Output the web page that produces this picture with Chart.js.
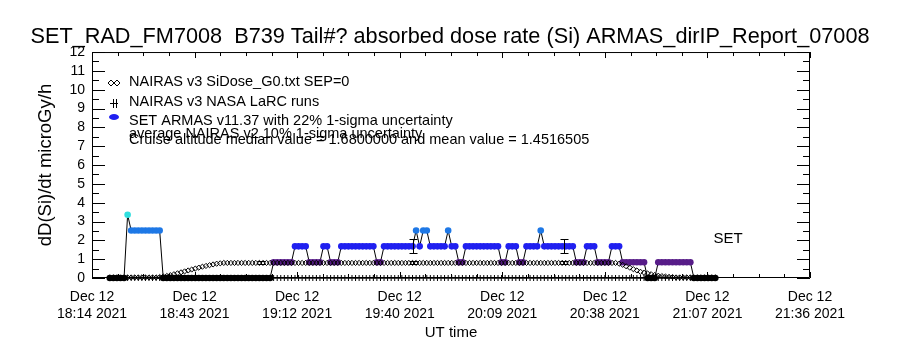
<!DOCTYPE html>
<html>
<head>
<meta charset="utf-8">
<script src="https://cdn.jsdelivr.net/npm/chart.js@4.4.1/dist/chart.umd.min.js"></script>
<style>
  html, body { margin: 0; padding: 0; background: #fff; }
  #chart { display: block; }
</style>
</head>
<body>
<canvas id="chart" width="900" height="350"></canvas>
<script>
// minutes after 18:14 UT, one sample per minute
const minutes = [
  5, 6, 7, 8, 9, 10, 11, 12, 13, 14, 15, 16, 17, 18, 19, 20, 21, 22, 23, 24,
  25, 26, 27, 28, 29, 30, 31, 32, 33, 34, 35, 36, 37, 38, 39, 40, 41, 42, 43, 44,
  45, 46, 47, 48, 49, 50, 51, 52, 53, 54, 55, 56, 57, 58, 59, 60, 61, 62, 63, 64,
  65, 66, 67, 68, 69, 70, 71, 72, 73, 74, 75, 76, 77, 78, 79, 80, 81, 82, 83, 84,
  85, 86, 87, 88, 89, 90, 91, 92, 93, 94, 95, 96, 97, 98, 99, 100, 101, 102, 103, 104,
  105, 106, 107, 108, 109, 110, 111, 112, 113, 114, 115, 116, 117, 118, 119, 120, 121, 122, 123, 124,
  125, 126, 127, 128, 129, 130, 131, 132, 133, 134, 135, 136, 137, 138, 139, 140, 141, 142, 143, 144,
  145, 146, 147, 148, 149, 150, 151, 152, 153, 154, 155, 156, 157, 158, 159, 160, 161, 162, 163, 164,
  165, 166, 167, 168, 169, 170, 171, 172, 173, 174, 175
];

// SET ARMAS dose rate (microGy/h)
const armasDose = [
  0, 0, 0, 0, 0, 3.36, 2.52, 2.52, 2.52, 2.52,
  2.52, 2.52, 2.52, 2.52, 2.52, 0, 0, 0, 0, 0,
  0, 0, 0, 0, 0, 0, 0, 0, 0, 0,
  0, 0, 0, 0, 0, 0, 0, 0, 0, 0,
  0, 0, 0, 0, 0, 0, 0.84, 0.84, 0.84, 0.84,
  0.84, 0.84, 1.68, 1.68, 1.68, 1.68, 0.84, 0.84, 0.84, 0.84,
  1.68, 1.68, 0.84, 0.84, 0.84, 1.68, 1.68, 1.68, 1.68, 1.68,
  1.68, 1.68, 1.68, 1.68, 1.68, 0.84, 0.84, 1.68, 1.68, 1.68,
  1.68, 1.68, 1.68, 1.68, 1.68, 1.68, 2.52, 1.68, 2.52, 2.52,
  1.68, 1.68, 1.68, 1.68, 1.68, 2.52, 1.68, 1.68, 0.84, 0.84,
  1.68, 1.68, 1.68, 1.68, 1.68, 1.68, 1.68, 1.68, 1.68, 1.68,
  0.84, 0.84, 1.68, 1.68, 1.68, 0.84, 0.84, 1.68, 1.68, 1.68,
  1.68, 2.52, 1.68, 1.68, 1.68, 1.68, 1.68, 1.68, 1.68, 1.68,
  1.68, 0.84, 0.84, 0.84, 1.68, 1.68, 1.68, 0.84, 0.84, 0.84,
  0.84, 1.68, 1.68, 1.68, 0.84, 0.84, 0.84, 0.84, 0.84, 0.84,
  0.84, 0, 0, 0, 0.84, 0.84, 0.84, 0.84, 0.84, 0.84,
  0.84, 0.84, 0.84, 0.84, 0, 0, 0, 0, 0, 0,
  0
];

// NAIRAS v3 SiDose_G0 (SEP=0)
const nairasDose = [
  0.03, 0.03, 0.03, 0.03, 0.03, 0.03, 0.03, 0.03, 0.03, 0.03,
  0.03, 0.03, 0.03, 0.03, 0.05, 0.08, 0.11, 0.15, 0.2, 0.25,
  0.3, 0.35, 0.4, 0.45, 0.5, 0.55, 0.6, 0.64, 0.68, 0.72,
  0.76, 0.78, 0.8, 0.8, 0.8, 0.8, 0.8, 0.8, 0.8, 0.8,
  0.8, 0.8, 0.8, 0.8, 0.8, 0.8, 0.8, 0.8, 0.8, 0.8,
  0.8, 0.8, 0.8, 0.8, 0.8, 0.8, 0.8, 0.8, 0.8, 0.8,
  0.8, 0.8, 0.8, 0.8, 0.8, 0.8, 0.8, 0.8, 0.8, 0.8,
  0.8, 0.8, 0.8, 0.8, 0.8, 0.8, 0.8, 0.8, 0.8, 0.8,
  0.8, 0.8, 0.8, 0.8, 0.8, 0.8, 0.8, 0.8, 0.8, 0.8,
  0.8, 0.8, 0.8, 0.8, 0.8, 0.8, 0.8, 0.8, 0.8, 0.8,
  0.8, 0.8, 0.8, 0.8, 0.8, 0.8, 0.8, 0.8, 0.8, 0.8,
  0.8, 0.8, 0.8, 0.8, 0.8, 0.8, 0.8, 0.8, 0.8, 0.8,
  0.8, 0.8, 0.8, 0.8, 0.8, 0.8, 0.8, 0.8, 0.8, 0.8,
  0.8, 0.8, 0.8, 0.8, 0.8, 0.8, 0.8, 0.8, 0.8, 0.8,
  0.8, 0.8, 0.8, 0.76, 0.7, 0.62, 0.55, 0.47, 0.4, 0.33,
  0.28, 0.24, 0.2, 0.16, 0.12, 0.1, 0.08, 0.06, 0.05, 0.03,
  0.03, 0.03, 0.03, 0.03, 0.03, 0.03, 0.03, 0.03, 0.03, 0.03,
  0.03
];

// NAIRAS v3 NASA LaRC runs (none above zero on this flight)
const larcDose = [
  0, 0, 0, 0, 0, 0, 0, 0, 0, 0, 0, 0, 0, 0, 0, 0, 0, 0, 0, 0,
  0, 0, 0, 0, 0, 0, 0, 0, 0, 0, 0, 0, 0, 0, 0, 0, 0, 0, 0, 0,
  0, 0, 0, 0, 0, 0, 0, 0, 0, 0, 0, 0, 0, 0, 0, 0, 0, 0, 0, 0,
  0, 0, 0, 0, 0, 0, 0, 0, 0, 0, 0, 0, 0, 0, 0, 0, 0, 0, 0, 0,
  0, 0, 0, 0, 0, 0, 0, 0, 0, 0, 0, 0, 0, 0, 0, 0, 0, 0, 0, 0,
  0, 0, 0, 0, 0, 0, 0, 0, 0, 0, 0, 0, 0, 0, 0, 0, 0, 0, 0, 0,
  0, 0, 0, 0, 0, 0, 0, 0, 0, 0, 0, 0, 0, 0, 0, 0, 0, 0, 0, 0,
  0, 0, 0, 0, 0, 0, 0, 0, 0, 0, 0, 0, 0, 0, 0, 0, 0, 0, 0, 0,
  0, 0, 0, 0, 0, 0, 0, 0, 0, 0, 0
];

// error bars: ARMAS 22% and NAIRAS v2 10% 1-sigma
const armasErrMinutes = [90, 132.5];
const armasErrValue = [1.68, 1.68];
const armasErrSigma = [0.37, 0.37];
const nairasErrMinutes = [47.5, 90, 132.5];
const nairasErrValue = [0.8, 0.8, 0.8];
const nairasErrSigma = [0.08, 0.08, 0.08];

// dose level -> point colour
const doseLevels = [0, 0.84, 1.68, 2.52, 3.36];
const levelColors = ['#000000', '#571c88', '#2020f0', '#1e78e6', '#30dede'];

// x axis ticks (minutes after 18:14) and labels
const xTickMinutes = [0, 28.8, 57.6, 86.4, 115.2, 144, 172.8, 201.6];
const xTickDate = 'Dec 12';
const xTickTimes = ['18:14 2021', '18:43 2021', '19:12 2021', '19:40 2021',
  '20:09 2021', '20:38 2021', '21:07 2021', '21:36 2021'];

const legendLines = [
  'NAIRAS v3 SiDose_G0.txt SEP=0',
  'NAIRAS v3 NASA LaRC runs',
  'SET ARMAS v11.37 with 22% 1-sigma uncertainty',
  'average NAIRAS v2 10% 1-sigma uncertainty',
  'Cruise altitude median value = 1.6800000 and mean value = 1.4516505'
];

const FONT = '"Liberation Sans", Arial, sans-serif';

function levelColor(v) {
  let best = 0;
  doseLevels.forEach((l, i) => {
    if (Math.abs(v - l) < Math.abs(v - doseLevels[best])) best = i;
  });
  return levelColors[best];
}

// IDL style box with inward ticks
const idlFrame = {
  id: 'idlFrame',
  beforeDatasetsDraw(chart) {
    const { ctx, chartArea: a, scales: { x, y } } = chart;
    ctx.save();
    ctx.strokeStyle = '#000';
    ctx.lineWidth = 1;
    ctx.beginPath();
    ctx.rect(a.left + 0.5, a.top + 0.5, a.right - a.left - 1, a.bottom - a.top - 1);
    for (let v = 0; v <= 12; v += 0.5) {
      const py = Math.round(y.getPixelForValue(v)) + 0.5;
      const len = v % 1 === 0 ? 13 : 7;
      ctx.moveTo(a.left, py); ctx.lineTo(a.left + len, py);
      ctx.moveTo(a.right, py); ctx.lineTo(a.right - len, py);
    }
    for (let m = 0; m <= 201.7; m += 7.2) {
      const px = Math.round(x.getPixelForValue(m)) + 0.5;
      const major = Math.abs(m / 28.8 - Math.round(m / 28.8)) < 1e-6;
      const len = major ? 6 : 4;
      ctx.moveTo(px, a.bottom); ctx.lineTo(px, a.bottom - len);
      ctx.moveTo(px, a.top); ctx.lineTo(px, a.top + len);
    }
    ctx.stroke();
    ctx.restore();
  }
};

// error bars, in-plot legend and notes
const idlNotes = {
  id: 'idlNotes',
  afterDatasetsDraw(chart) {
    const { ctx, chartArea: a, scales: { x, y } } = chart;
    ctx.save();
    ctx.strokeStyle = '#000';
    ctx.lineWidth = 1;
    const errBar = (m, v, s, cap) => {
      const px = Math.round(x.getPixelForValue(m)) + 0.5;
      const y1 = Math.round(y.getPixelForValue(v - s)) + 0.5;
      const y2 = Math.round(y.getPixelForValue(v + s)) + 0.5;
      ctx.moveTo(px, y1); ctx.lineTo(px, y2);
      ctx.moveTo(px - cap, y1); ctx.lineTo(px + cap, y1);
      ctx.moveTo(px - cap, y2); ctx.lineTo(px + cap, y2);
    };
    ctx.beginPath();
    armasErrMinutes.forEach((m, i) => errBar(m, armasErrValue[i], armasErrSigma[i], 4));
    nairasErrMinutes.forEach((m, i) => errBar(m, nairasErrValue[i], nairasErrSigma[i], 4));
    ctx.stroke();

    // legend symbols
    const lx = a.left + 22;
    ctx.beginPath();
    [-3, 3].forEach(d => {
      const cx = lx + d, cy = 83;
      ctx.moveTo(cx, cy - 3); ctx.lineTo(cx + 3, cy); ctx.lineTo(cx, cy + 3); ctx.lineTo(cx - 3, cy); ctx.closePath();
    });
    ctx.moveTo(lx - 4, 103.5); ctx.lineTo(lx + 4, 103.5);
    ctx.moveTo(lx - 0.5, 99); ctx.lineTo(lx - 0.5, 108);
    ctx.moveTo(lx + 2.5, 99); ctx.lineTo(lx + 2.5, 108);
    ctx.stroke();
    ctx.fillStyle = levelColors[2];
    ctx.beginPath();
    ctx.ellipse(lx, 117, 5, 3, 0, 0, Math.PI * 2);
    ctx.fill();

    ctx.fillStyle = '#000';
    ctx.font = '14.5px ' + FONT;
    ctx.textBaseline = 'alphabetic';
    const baselines = [86, 105.5, 125, 137.5, 143.5];
    legendLines.forEach((t, i) => ctx.fillText(t, a.left + 37, baselines[i]));

    ctx.font = '15px ' + FONT;
    ctx.fillText('SET', x.getPixelForValue(174.5), y.getPixelForValue(1.85));
    ctx.restore();
  }
};

new Chart(document.getElementById('chart'), {
  type: 'line',
  data: {
    datasets: [
      {
        label: 'NAIRAS v3 NASA LaRC runs',
        data: minutes.map((m, i) => ({ x: m, y: larcDose[i] })),
        showLine: false,
        pointStyle: 'cross',
        pointRadius: 3,
        pointBorderColor: '#000',
        pointBorderWidth: 1,
        clip: false
      },
      {
        label: 'NAIRAS v3 SiDose_G0.txt SEP=0',
        data: minutes.map((m, i) => ({ x: m, y: nairasDose[i] })),
        showLine: false,
        pointStyle: 'rectRot',
        pointRadius: 2.6,
        pointBackgroundColor: 'rgba(0,0,0,0)',
        pointBorderColor: '#000',
        pointBorderWidth: 1,
        clip: false
      },
      {
        label: 'SET ARMAS v11.37',
        data: minutes.map((m, i) => ({ x: m, y: armasDose[i] })),
        borderColor: '#000',
        borderWidth: 1,
        tension: 0,
        pointStyle: 'circle',
        pointRadius: 3.3,
        pointBorderWidth: 0,
        pointBackgroundColor: ctx => levelColor(ctx.raw ? ctx.raw.y : 0),
        pointBorderColor: ctx => levelColor(ctx.raw ? ctx.raw.y : 0),
        clip: false
      }
    ]
  },
  options: {
    responsive: false,
    devicePixelRatio: 1,
    animation: false,
    layout: { padding: 0 },
    plugins: {
      legend: { display: false },
      tooltip: { enabled: false },
      title: {
        display: true,
        text: 'SET_RAD_FM7008  B739 Tail#? absorbed dose rate (Si) ARMAS_dirIP_Report_07008',
        color: '#000',
        font: { family: FONT, size: 21.7, weight: 'normal', lineHeight: 1.2 },
        padding: { top: 24, bottom: 2 }
      }
    },
    scales: {
      x: {
        type: 'linear',
        min: 0,
        max: 201.6,
        afterFit: s => { s.height = 72; },
        afterBuildTicks: s => { s.ticks = xTickMinutes.map(v => ({ value: v })); },
        grid: { display: false, drawTicks: false },
        border: { display: false },
        ticks: {
          color: '#000',
          font: { family: FONT, size: 14, lineHeight: 1.2 },
          padding: 10.6,
          maxRotation: 0,
          autoSkip: false,
          callback: (v, i) => [xTickDate, xTickTimes[i]]
        },
        title: {
          display: true,
          text: 'UT time',
          color: '#000',
          font: { family: FONT, size: 15, lineHeight: 1.2 },
          padding: { top: 0, bottom: 8 }
        }
      },
      y: {
        type: 'linear',
        min: 0,
        max: 12,
        afterFit: s => { s.width = 92; },
        grid: { display: false, drawTicks: false },
        border: { display: false },
        ticks: {
          color: '#000',
          stepSize: 1,
          autoSkip: false,
          font: { family: FONT, size: 14 },
          padding: 7
        },
        title: {
          display: true,
          text: 'dD(Si)/dt microGy/h',
          color: '#000',
          font: { family: FONT, size: 18.5, lineHeight: 1.2 },
          padding: { top: 35, bottom: 0 }
        }
      },
      yRight: {
        type: 'linear',
        position: 'right',
        min: 0,
        max: 12,
        afterFit: s => { s.width = 90; },
        grid: { display: false, drawTicks: false },
        border: { display: false },
        ticks: { display: false }
      }
    }
  },
  plugins: [idlFrame, idlNotes]
});
</script>
</body>
</html>
